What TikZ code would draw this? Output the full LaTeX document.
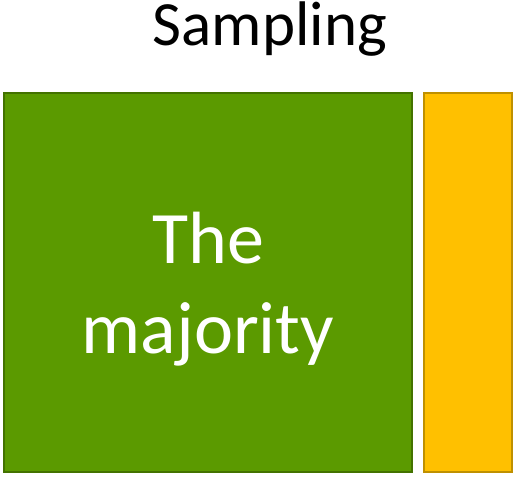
\documentclass[tikz,border=0pt]{standalone}
\usepackage{fontspec}
\setmainfont{Carlito}
\definecolor{grfill}{HTML}{5B9A00}
\definecolor{grline}{HTML}{437200}
\definecolor{orfill}{HTML}{FFC000}
\definecolor{orline}{HTML}{BF9000}
\tikzset{
  blockbox/.style={line width=2.5pt},
}
\begin{document}
\begin{tikzpicture}[x=1pt,y=-1pt]
\useasboundingbox (0,0) rectangle (515,477);
\node[anchor=base,inner sep=0pt,font=\fontsize{63}{72}\selectfont] (title) at (270,45) {Sampling};
\draw[blockbox,fill=grfill,draw=grline] (4,93) rectangle (412,472) coordinate (gse);
\coordinate (gnw) at (4,93);
\draw[blockbox,fill=orfill,draw=orline] (424,93) rectangle (512,472);
\node[text=white,align=center,anchor=base,font=\fontsize{74}{90}\selectfont] (maj) at (208,353) {The\\majority};
\end{tikzpicture}
\end{document}
